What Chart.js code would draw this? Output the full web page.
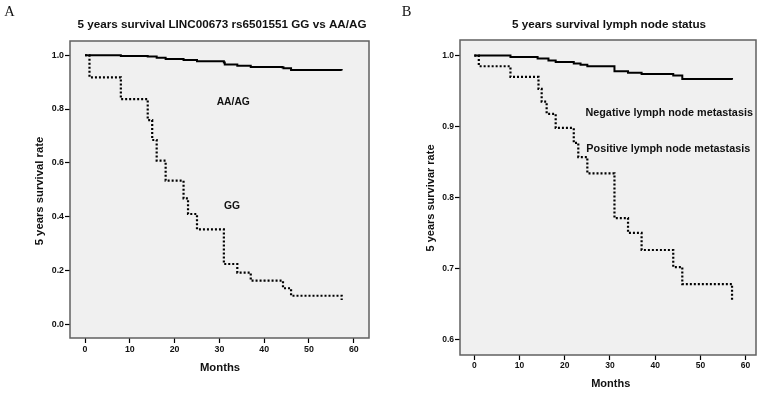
<!DOCTYPE html>
<html>
<head>
<meta charset="utf-8">
<script src="https://cdn.jsdelivr.net/npm/chart.js@4/dist/chart.umd.min.js"></script>
<style>
  html, body { margin: 0; padding: 0; background: #ffffff; }
  #wrap { position: relative; width: 766px; height: 393px; overflow: hidden; }
  canvas { position: absolute; top: 0; }
  #cA { left: 0; }
  #cB { left: 383px; }
</style>
</head>
<body>
<div id="wrap">
  <canvas id="cA" width="383" height="393"></canvas>
  <canvas id="cB" width="383" height="393"></canvas>
</div>
<script>
// ---------- DATA ----------
// Panel A: LINC00673 rs6501551 GG vs AA/AG
const aaMonths = [0, 8, 14, 16, 18, 22, 25, 31, 31.2, 34, 37, 44, 44.3, 46, 57.3];
const aaSurvival = [1.0, 0.997, 0.995, 0.991, 0.986, 0.982, 0.978, 0.973, 0.966, 0.961, 0.956, 0.955, 0.952, 0.945, 0.943];
const ggMonths = [0, 1, 8, 14, 15, 16, 18, 22, 23, 25, 31, 34, 37, 44.2, 46, 57.3, 57.3];
const ggSurvival = [1.0, 0.918, 0.837, 0.759, 0.685, 0.608, 0.534, 0.468, 0.410, 0.353, 0.224, 0.192, 0.162, 0.134, 0.106, 0.106, 0.090];

// Panel B: lymph node status
const negMonths = [0, 8, 14, 16.4, 18, 22, 23.5, 25, 31, 34, 37, 44, 46, 57];
const negSurvival = [1.0, 0.998, 0.996, 0.993, 0.991, 0.989, 0.987, 0.985, 0.978, 0.976, 0.974, 0.972, 0.967, 0.966];
const posMonths = [0, 1, 8, 14.2, 14.9, 16, 18, 22, 23, 25, 31, 34, 37, 44, 46, 57, 57];
const posSurvival = [1.0, 0.985, 0.970, 0.953, 0.935, 0.918, 0.898, 0.877, 0.857, 0.834, 0.771, 0.750, 0.726, 0.702, 0.678, 0.678, 0.653];

// Tick labels
const monthTicks = [0, 10, 20, 30, 40, 50, 60];
const ticksA = [0.0, 0.2, 0.4, 0.6, 0.8, 1.0];
const ticksB = [0.6, 0.7, 0.8, 0.9, 1.0];

// Text
const titleA = "5 years survival LINC00673 rs6501551 GG vs AA/AG";
const titleB = "5 years survival lymph node status";
const yTitleA = "5 years survival rate";
const yTitleB = "5 years survivar rate";
const xTitle = "Months";
const labelsA = [{ text: "AA/AG", x: 33.1, y: 0.825 }, { text: "GG", x: 32.8, y: 0.438 }];
const labelsB = [{ text: "Negative lymph node metastasis", x: 43.1, y: 0.919 }, { text: "Positive lymph node metastasis", x: 42.9, y: 0.868 }];

// ---------- HELPERS ----------
const SANS = '"Liberation Sans", Arial, sans-serif';
const toPts = (xs, ys) => xs.map((x, i) => ({ x: x, y: ys[i] }));

function makeChart(id, cfg) {
  const textPlugin = {
    id: 'decor' + id,
    beforeDraw(chart) {
      const ctx = chart.ctx, a = chart.chartArea;
      ctx.save();
      ctx.fillStyle = '#ffffff';
      ctx.fillRect(0, 0, chart.width, chart.height);
      ctx.fillStyle = '#f0f0f0';
      ctx.fillRect(a.left, a.top, a.right - a.left, a.bottom - a.top);
      ctx.restore();
    },
    afterDraw(chart) {
      const ctx = chart.ctx, a = chart.chartArea;
      const xs = chart.scales.x, ys = chart.scales.y;
      ctx.save();
      ctx.strokeStyle = '#606060';
      ctx.lineWidth = 1.5;
      ctx.strokeRect(a.left, a.top, a.right - a.left, a.bottom - a.top);
      ctx.fillStyle = '#111';
      ctx.textAlign = 'center';
      ctx.textBaseline = 'middle';
      // panel letter
      ctx.font = '14.5px "Liberation Serif", "Times New Roman", serif';
      ctx.fillText(cfg.letter, cfg.letterPos[0], cfg.letterPos[1]);
      // title
      ctx.font = 'bold 11.7px ' + SANS;
      ctx.fillText(cfg.title, cfg.titlePos[0], cfg.titlePos[1]);
      // x title
      ctx.font = 'bold ' + cfg.axisTitleSize + 'px ' + SANS;
      ctx.fillText(xTitle, cfg.xTitlePos[0], cfg.xTitlePos[1]);
      // y title
      ctx.save();
      ctx.translate(cfg.yTitlePos[0], cfg.yTitlePos[1]);
      ctx.rotate(-Math.PI / 2);
      ctx.fillText(cfg.yTitle, 0, 0);
      ctx.restore();
      // curve labels
      ctx.font = 'bold ' + cfg.labelSize + 'px ' + SANS;
      cfg.labels.forEach(l => {
        ctx.fillText(l.text, xs.getPixelForValue(l.x), ys.getPixelForValue(l.y));
      });
      ctx.restore();
    }
  };

  return new Chart(document.getElementById(id), {
    type: 'line',
    data: {
      datasets: [
        {
          data: toPts(cfg.solidX, cfg.solidY),
          borderColor: '#000',
          borderWidth: 2,
          stepped: true,
          pointRadius: 0,
          fill: false
        },
        {
          data: toPts(cfg.dotX, cfg.dotY),
          borderColor: '#000',
          borderWidth: 2.2,
          borderDash: [2, 2],
          stepped: true,
          pointRadius: 0,
          fill: false
        }
      ]
    },
    options: {
      responsive: false,
      animation: false,
      devicePixelRatio: 1,
      layout: { padding: { top: cfg.padTop, right: cfg.padRight, left: 0, bottom: 0 } },
      plugins: { legend: { display: false }, tooltip: { enabled: false }, title: { display: false } },
      scales: {
        x: {
          type: 'linear',
          min: cfg.xMin, max: cfg.xMax,
          afterBuildTicks: s => { s.ticks = monthTicks.map(v => ({ value: v })); },
          afterFit: s => { s.height = cfg.xAxisHeight; },
          border: { display: false },
          grid: { display: true, drawOnChartArea: false, drawTicks: true, tickLength: 5, tickColor: '#000', tickWidth: 1.2 },
          ticks: { color: '#111', padding: 1, maxRotation: 0, font: { family: SANS, size: cfg.tickSize, weight: 'bold' }, callback: v => String(v) }
        },
        y: {
          type: 'linear',
          min: cfg.yMin, max: cfg.yMax,
          afterBuildTicks: s => { s.ticks = cfg.yTicks.map(v => ({ value: v })); },
          afterFit: s => { s.width = cfg.yAxisWidth; },
          border: { display: false },
          grid: { display: true, drawOnChartArea: false, drawTicks: true, tickLength: 5, tickColor: '#000', tickWidth: 1.2 },
          ticks: { color: '#111', padding: 1, font: { family: SANS, size: cfg.tickSize, weight: 'bold' }, callback: v => Number(v).toFixed(1) }
        }
      }
    },
    plugins: [textPlugin]
  });
}

makeChart('cA', {
  letter: 'A', letterPos: [9.5, 12.5],
  title: titleA, titlePos: [222, 25],
  yTitle: yTitleA, yTitlePos: [40, 191],
  xTitlePos: [220, 368], axisTitleSize: 11.3,
  labels: labelsA, labelSize: 10.3,
  solidX: aaMonths, solidY: aaSurvival, dotX: ggMonths, dotY: ggSurvival,
  padTop: 41, padRight: 14, xAxisHeight: 55, yAxisWidth: 70,
  xMin: -3.35, xMax: 63.4, yMin: -0.051, yMax: 1.053,
  yTicks: ticksA, tickSize: 8.8
});

makeChart('cB', {
  letter: 'B', letterPos: [23.7, 12],
  title: titleB, titlePos: [226, 25],
  yTitle: yTitleB, yTitlePos: [47.5, 198],
  xTitlePos: [227.7, 384], axisTitleSize: 11,
  labels: labelsB, labelSize: 10.8,
  solidX: negMonths, solidY: negSurvival, dotX: posMonths, dotY: posSurvival,
  padTop: 40, padRight: 10, xAxisHeight: 38, yAxisWidth: 77,
  xMin: -3.16, xMax: 62.3, yMin: 0.578, yMax: 1.022,
  yTicks: ticksB, tickSize: 8.5
});
</script>
</body>
</html>
